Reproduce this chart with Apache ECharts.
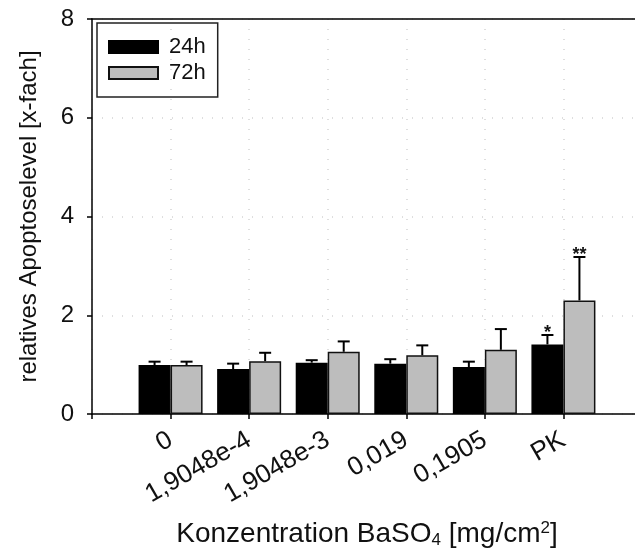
<!DOCTYPE html>
<html>
<head>
<meta charset="utf-8">
<script src="https://cdn.jsdelivr.net/npm/echarts@6/dist/echarts.min.js"></script>
<style>
html,body{margin:0;padding:0;background:#fff;}
#chart{width:635px;height:554px;}
</style>
</head>
<body>
<div id="chart"></div>
<script>
var categories = ['0', '1,9048e-4', '1,9048e-3', '0,019', '0,1905', 'PK'];
var seriesNames = ['24h', '72h'];
var values24 = [0.99, 0.91, 1.04, 1.02, 0.95, 1.41];
var errors24 = [0.07, 0.11, 0.05, 0.09, 0.11, 0.19];
var values72 = [0.99, 1.07, 1.26, 1.19, 1.30, 2.30];
var errors72 = [0.07, 0.17, 0.21, 0.20, 0.42, 0.88];
var signif24 = ['', '', '', '', '', '*'];
var signif72 = ['', '', '', '', '', '**'];
var yTicks = [0, 2, 4, 6, 8];

var FONT = '"Liberation Sans", Arial, sans-serif';
var BAR_W = 32;

function barData(vals) {
  return vals.map(function (v, i) { return [i + 1, v]; });
}
function errData(vals, errs) {
  return vals.map(function (v, i) { return [i + 1, v, errs[i]]; });
}
function errRender(shift, marks) {
  return function (params, api) {
    var x = api.value(0), y = api.value(1), e = api.value(2);
    var p0 = api.coord([x, y]);
    var p1 = api.coord([x, y + e]);
    var cx = p0[0] + shift;
    var style = { stroke: '#000', lineWidth: 2 };
    var children = [
      { type: 'line', shape: { x1: cx, y1: p0[1], x2: cx, y2: p1[1] }, style: style },
      { type: 'line', shape: { x1: cx - 6, y1: p1[1], x2: cx + 6, y2: p1[1] }, style: style }
    ];
    var m = marks[params.dataIndex];
    if (m) {
      children.push({
        type: 'text',
        style: { text: m, x: cx, y: p1[1] + 7, align: 'center', verticalAlign: 'bottom',
                 font: 'bold 18px ' + FONT, fill: '#111' }
      });
    }
    return { type: 'group', children: children };
  };
}

var chart = echarts.init(document.getElementById('chart'), null, { renderer: 'canvas' });
chart.setOption({
  animation: false,
  backgroundColor: '#fff',
  textStyle: { fontFamily: FONT },
  grid: {
    left: 92, top: 19, width: 550, height: 395,
    outerBoundsMode: 'none',
    containLabel: false,
    show: false
  },
  legend: {
    left: 97, top: 23,
    orient: 'vertical',
    data: seriesNames,
    icon: 'rect',
    itemWidth: 49, itemHeight: 12,
    itemGap: 4,
    padding: [13, 12, 13, 11],
    borderColor: '#222', borderWidth: 1.5, borderRadius: 0,
    textStyle: { fontSize: 22, lineHeight: 22, color: '#111', fontFamily: FONT, padding: [0, 0, 0, 6] }
  },
  xAxis: [{
    type: 'value',
    min: 0, max: 7, interval: 1,
    name: '{m|Konzentration BaSO}{sub|4}{m| [mg/cm}{sup|2}{m|]}',
    nameLocation: 'middle',
    nameGap: 106,
    nameTextStyle: {
      rich: {
        m: { fontSize: 28, color: '#111', fontFamily: FONT },
        sub: { fontSize: 17, color: '#111', fontFamily: FONT, verticalAlign: 'bottom', padding: [12, 0, 0, 0] },
        sup: { fontSize: 17, color: '#111', fontFamily: FONT, verticalAlign: 'top', padding: [0, 0, 12, 0] }
      }
    },
    axisLine: { show: true, onZero: false, lineStyle: { color: '#000', width: 1.5 } },
    axisTick: { show: true, inside: false, length: 5, lineStyle: { color: '#000', width: 1.5 } },
    axisLabel: {
      rotate: 30, fontSize: 26, color: '#111', margin: 24, fontFamily: FONT,
      formatter: function (v) { return categories[v - 1] || ''; }
    },
    splitLine: { show: true, lineStyle: { color: '#d4d4d4', type: [1, 9], width: 1.5 } }
  }, {
    type: 'value',
    position: 'top',
    min: 0, max: 7, interval: 1,
    axisLine: { show: true, onZero: false, lineStyle: { color: '#000', width: 1.5 } },
    axisTick: { show: false },
    axisLabel: { show: false },
    splitLine: { show: false }
  }],
  yAxis: {
    type: 'value',
    min: yTicks[0], max: yTicks[yTicks.length - 1], interval: 2,
    name: 'relatives Apoptoselevel [x-fach]',
    nameLocation: 'middle',
    nameGap: 51,
    nameTextStyle: { fontSize: 24, color: '#111', fontFamily: FONT },
    axisLine: { show: true, lineStyle: { color: '#000', width: 1.5 } },
    axisTick: { show: true, inside: false, length: 5, lineStyle: { color: '#000', width: 1.5 } },
    axisLabel: { fontSize: 24, color: '#111', margin: 18, fontFamily: FONT },
    splitLine: { show: true, lineStyle: { color: '#d4d4d4', type: [1, 9], width: 1.5 } }
  },
  series: [
    {
      name: seriesNames[0], type: 'bar', data: barData(values24),
      barWidth: BAR_W, barGap: '0%',
      itemStyle: { color: '#000', borderColor: '#000', borderWidth: 1.5 }
    },
    {
      name: seriesNames[1], type: 'bar', data: barData(values72),
      barWidth: BAR_W, barGap: '0%',
      itemStyle: { color: '#bdbdbd', borderColor: '#111', borderWidth: 1.5 }
    },
    {
      type: 'custom', name: 'err24', data: errData(values24, errors24),
      renderItem: errRender(-BAR_W / 2, signif24), z: 5,
      encode: { x: 0, y: 1 }
    },
    {
      type: 'custom', name: 'err72', data: errData(values72, errors72),
      renderItem: errRender(BAR_W / 2, signif72), z: 5,
      encode: { x: 0, y: 1 }
    }
  ]
});
</script>
</body>
</html>
